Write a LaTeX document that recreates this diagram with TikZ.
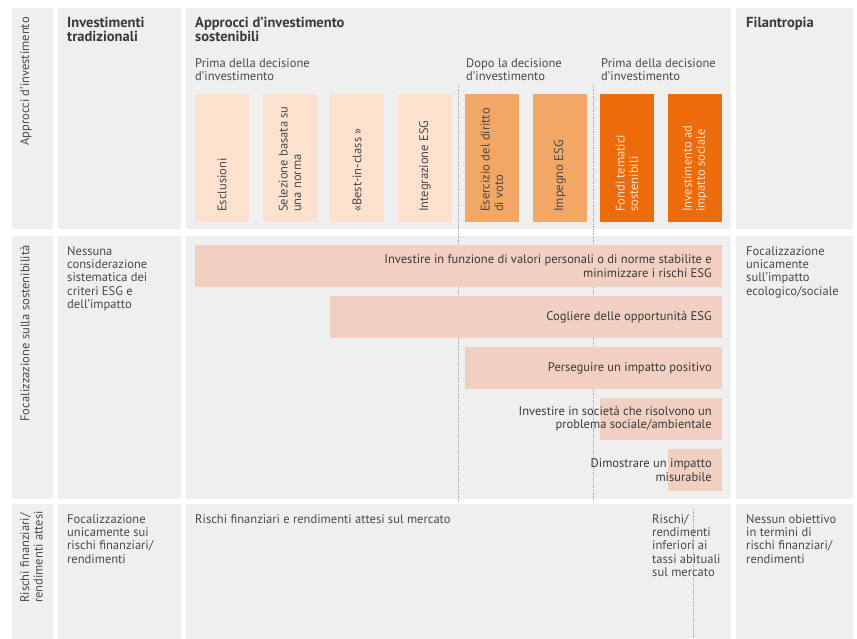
\documentclass[tikz,border=0pt]{standalone}
\usepackage{fontspec}
\setmainfont{PT Sans}
\definecolor{panel}{HTML}{EFEFEF}
\definecolor{pale}{HTML}{FBE1CE}
\definecolor{bar}{HTML}{F1CFC1}
\definecolor{mid}{HTML}{F2A766}
\definecolor{deep}{HTML}{EC6C0B}
\definecolor{deeptext}{HTML}{FCE2CC}
\definecolor{ink}{HTML}{3A3A3A}
\definecolor{body}{HTML}{4A4A4A}
\definecolor{rule}{HTML}{A8A8A8}
\tikzset{
  bodytxt/.style={inner sep=0pt, align=left, text=body, font=\fontsize{10.7}{11.4}\selectfont},
  celltxt/.style={bodytxt, anchor=north west},
  headtxt/.style={celltxt, text=ink, font=\fontsize{12.4}{11.8}\selectfont\bfseries},
  sidetxt/.style={bodytxt, rotate=90, anchor=north east},
  boxtxt/.style={bodytxt, rotate=90, anchor=west},
  bartxt/.style={bodytxt, anchor=east, align=right, text=ink},
  divider/.style={rule, densely dotted, line width=0.5pt}
}
\begin{document}
\begin{tikzpicture}[x=0.03cm, y=-0.03cm]
\useasboundingbox[fill=white] (0,0) rectangle (857,639);

% grey cells
\fill[panel] (12,8) rectangle (53,229);
\fill[panel] (58,8) rectangle (181,229);
\fill[panel] (186,8) rectangle (731,229);
\fill[panel] (736,8) rectangle (853,229);
\fill[panel] (12,236) rectangle (53,499);
\fill[panel] (58,236) rectangle (181,499);
\fill[panel] (186,236) rectangle (731,499);
\fill[panel] (736,236) rectangle (853,499);
\fill[panel] (12,504) rectangle (53,639);
\fill[panel] (58,504) rectangle (181,639);
\fill[panel] (186,504) rectangle (731,639);
\fill[panel] (736,504) rectangle (853,639);

% dotted dividers
\coordinate (dopotop) at (458,85);
\coordinate (dopobot) at (458,500);
\coordinate (primatop) at (593,85);
\coordinate (primabot) at (593,500);
\coordinate (rischitop) at (693,508);
\coordinate (rischibot) at (693,637);
\draw[divider] (dopotop) -- (dopobot);
\draw[divider] (primatop) -- (primabot);
\draw[divider] (rischitop) -- (rischibot);

% row labels
\node[sidetxt] (approcci) at (20,17) {Approcci d’investimento};
\node[sidetxt] (focus) at (20,245) {Focalizzazione sulla sostenibilità};
\node[sidetxt] (rischi) at (20,511) {Rischi finanziari/\\rendimenti attesi};

% headings
\node[headtxt] (tradizionali) at (67,17) {Investimenti\\tradizionali};
\node[headtxt] (sostenibili) at (195,17) {Approcci d’investimento\\sostenibili};
\node[headtxt] (filantropia) at (746,17) {Filantropia};
\node[celltxt] (primaA) at (195,58) {Prima della decisione\\d’investimento};
\node[celltxt] (dopo) at (466,58) {Dopo la decisione\\d’investimento};
\node[celltxt] (primaB) at (601,58) {Prima della decisione\\d’investimento};

% approach boxes
\fill[pale] (195,94) rectangle (249,222);
\fill[pale] (263,94) rectangle (317,222);
\fill[pale] (330,94) rectangle (384,222);
\fill[pale] (398,94) rectangle (452,222);
\fill[mid] (465,94) rectangle (519,222);
\fill[mid] (533,94) rectangle (587,222);
\fill[deep] (600,94) rectangle (654,222);
\fill[deep] (668,94) rectangle (722,222);
\node[boxtxt] (esclusioni) at (222,212) {Esclusioni};
\node[boxtxt] (norma) at (290,212) {Selezione basata su\\una norma};
\node[boxtxt] (bestclass) at (357,212) {«Best-in-class »};
\node[boxtxt] (integrazione) at (425,212) {Integrazione ESG};
\node[boxtxt] (voto) at (492,212) {Esercizio del diritto\\di voto};
\node[boxtxt] (impegno) at (560,212) {Impegno ESG};
\node[boxtxt, text=deeptext] (fondi) at (627,212) {Fondi tematici\\sostenibili};
\node[boxtxt, text=deeptext] (impatto) at (695,212) {Investimento ad\\impatto sociale};

% sustainability focus
\node[celltxt] (nessuna) at (67,246) {Nessuna\\considerazione\\sistematica dei\\criteri ESG e\\dell’impatto};
\node[celltxt] (ecologico) at (746,246) {Focalizzazione\\unicamente\\sull’impatto\\ecologico/sociale};
\fill[bar] (195,245) rectangle (722,287);
\fill[bar] (330,296) rectangle (722,338);
\fill[bar] (465,347) rectangle (722,389);
\fill[bar] (600,398) rectangle (722,440);
\fill[bar] (668,449) rectangle (722,491);
\node[bartxt] (valori) at (712,266) {Investire in funzione di valori personali o di norme stabilite e\\minimizzare i rischi ESG};
\node[bartxt] (opportunita) at (712,317) {Cogliere delle opportunità ESG};
\node[bartxt] (positivo) at (712,368) {Perseguire un impatto positivo};
\node[bartxt] (societa) at (712,419) {Investire in società che risolvono un\\problema sociale/ambientale};
\node[bartxt] (misurabile) at (712,470) {Dimostrare un impatto\\misurabile};

% risk / return
\node[celltxt] (sui) at (67,514) {Focalizzazione\\unicamente sui\\rischi finanziari/\\rendimenti};
\node[celltxt] (mercato) at (195,514) {Rischi finanziari e rendimenti attesi sul mercato};
\node[celltxt] (inferiori) at (652,514) {Rischi/\\rendimenti\\inferiori ai\\tassi abituali\\sul mercato};
\node[celltxt] (nessun) at (746,514) {Nessun obiettivo\\in termini di\\rischi finanziari/\\rendimenti};
\end{tikzpicture}
\end{document}
